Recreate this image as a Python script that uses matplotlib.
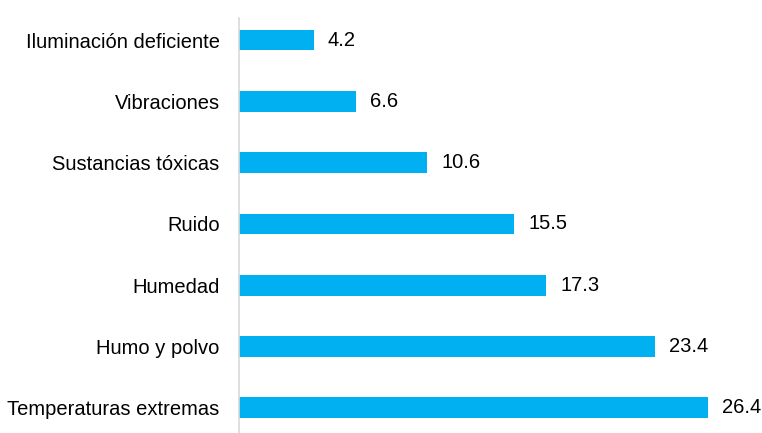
import matplotlib
matplotlib.use("Agg")
from matplotlib import pyplot as plt

categories = ["Temperaturas extremas", "Humo y polvo", "Humedad", "Ruido",
              "Sustancias tóxicas", "Vibraciones", "Iluminación deficiente"]
values = [26.4, 23.4, 17.3, 15.5, 10.6, 6.6, 4.2]

plt.rcParams['font.family'] = ['Liberation Sans', 'DejaVu Sans']

fig = plt.figure(figsize=(7.62, 4.33), dpi=100)
ax = fig.add_axes([239/762, 0, 1 - 239/762 - 0.01, 1 - 18/433])

bars = ax.barh(range(len(categories)), values, height=0.34, color="#00B0F0")
ax.bar_label(bars, labels=[f"{v:.1f}" for v in values], padding=10,
             fontsize=14.5, color="#000000", clip_on=False)

ax.set_yticks(range(len(categories)))
ax.set_yticklabels(categories, fontsize=14.5, color="#000000")
ax.tick_params(axis="y", length=0, pad=14)
ax.set_xticks([])
ax.set_xlim(0, 29)
ax.set_ylim(-0.41, 6.36)

for side in ["top", "right", "bottom"]:
    ax.spines[side].set_visible(False)
ax.spines["left"].set_color("#D9D9D9")
ax.spines["left"].set_linewidth(1.2)

fig.savefig("out.png", dpi=100)
